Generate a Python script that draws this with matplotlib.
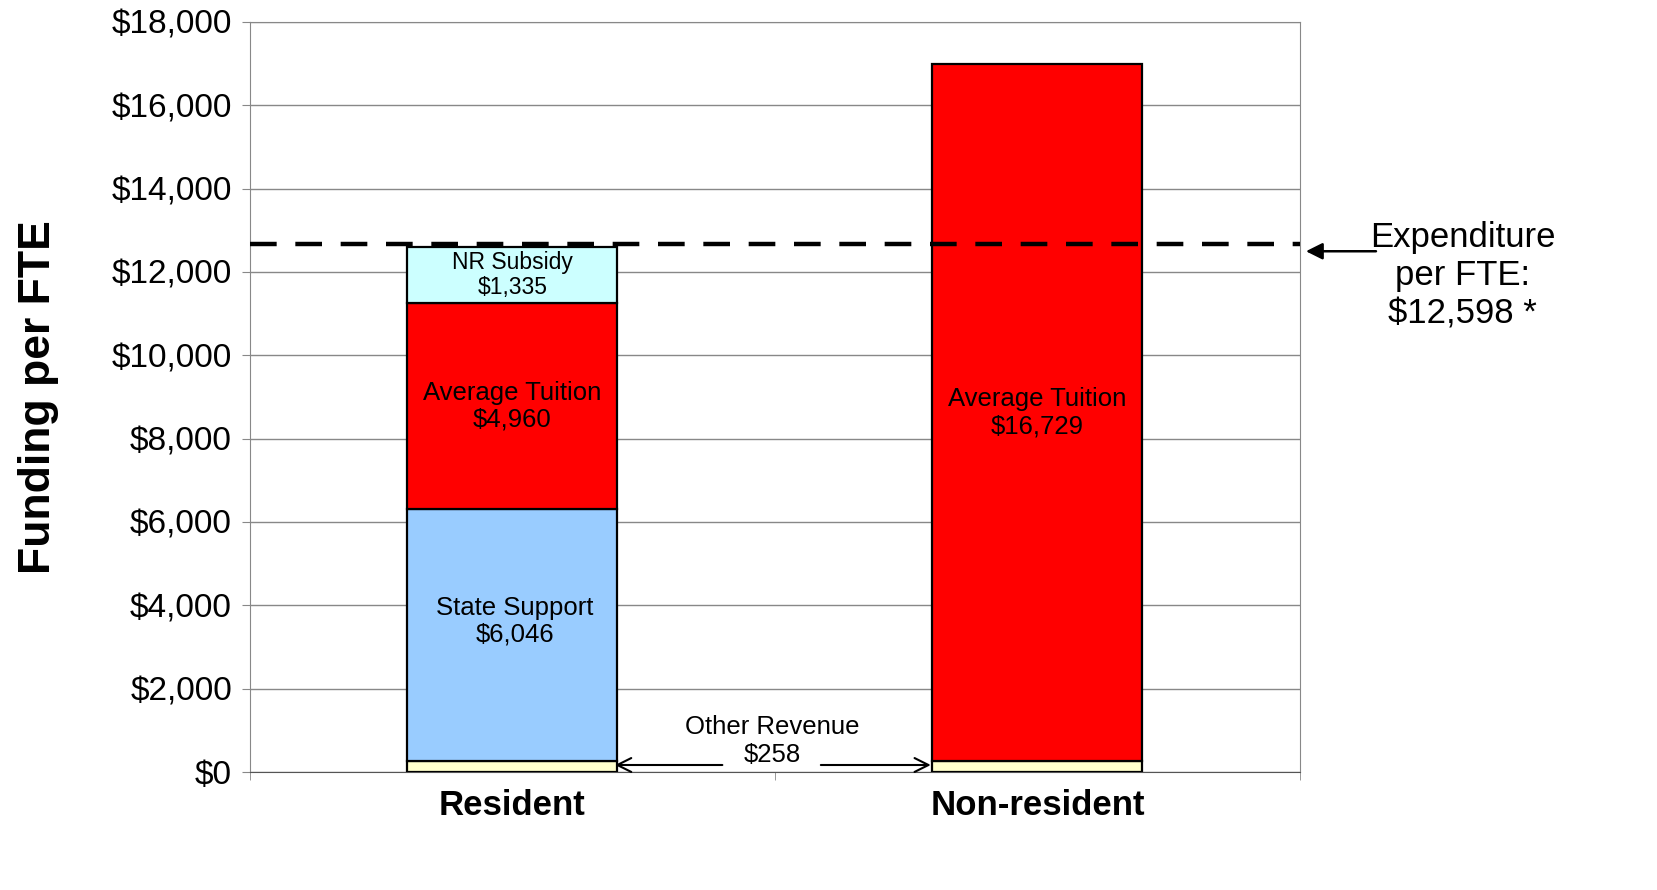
import matplotlib
matplotlib.use("Agg")
import matplotlib.pyplot as plt
import numpy as np

plt.rcParams['font.family'] = ['Liberation Sans', 'DejaVu Sans']

categories = ["Resident", "Non-resident"]
other_revenue = [258, 258]
state_support = [6046, 0]
avg_tuition = [4960, 16729]
nr_subsidy = [1335, 0]
expenditure = 12598
yticks = list(range(0, 18001, 2000))

fig = plt.figure(figsize=(16.58, 8.90), dpi=100)
ax = fig.add_axes([250/1658, 1-772/890, 1050/1658, 750/890])

x = np.arange(len(categories))
w = 0.4
edge = dict(edgecolor='black', linewidth=1.6, zorder=3)
b0 = np.array(other_revenue)
b1 = b0 + np.array(state_support)
b2 = b1 + np.array(avg_tuition)
ax.bar(x, other_revenue, w, color='#FFFFCC', **edge)
ax.bar(x[:1], state_support[:1], w, bottom=b0[:1], color='#99CCFF', **edge)
ax.bar(x, avg_tuition, w, bottom=b1, color='#FF0000', **edge)
ax.bar(x[:1], nr_subsidy[:1], w, bottom=b2[:1], color='#CCFFFF', **edge)

ax.set_xlim(-0.5, 1.5)
ax.set_ylim(0, 18000)
ax.set_yticks(yticks)
ax.set_yticklabels([f"${v:,}" for v in yticks], fontsize=24)
ax.grid(axis='y', color='#888888', linewidth=1.0, zorder=0)
ax.set_axisbelow(True)
ax.tick_params(axis='y', length=6, color='#888888', pad=7)
ax.set_xticks(x)
ax.set_xticklabels(categories, fontsize=25, fontweight='bold')
ax.tick_params(axis='x', length=0, pad=12)
ax.set_xticks([-0.5, 0.5, 1.5], minor=True)
ax.tick_params(axis='x', which='minor', length=6, color='#888888')
for s in ['left', 'right', 'top']:
    ax.spines[s].set_color('#888888')
ax.spines['bottom'].set_color('#555555')
ax.set_ylabel("Funding per FTE", fontsize=32, fontweight='bold', labelpad=38)

# segment labels
tfs = 18.5
ax.text(x[0] + 0.005, b0[0] + state_support[0]/2 + 330, "State Support\n$6,046", ha='center', va='center',
        fontsize=tfs, linespacing=1.15, zorder=4)
ax.text(x[0], b1[0] + avg_tuition[0]/2, "Average Tuition\n$4,960", ha='center', va='center',
        fontsize=tfs, linespacing=1.15, zorder=4)
ax.text(x[0], b2[0] + nr_subsidy[0]/2, "NR Subsidy\n$1,335", ha='center', va='center',
        fontsize=16.5, linespacing=1.1, zorder=4)
ax.text(x[1], b1[1] + avg_tuition[1]/2, "Average Tuition\n$16,729", ha='center', va='center',
        fontsize=tfs, linespacing=1.15, zorder=4)

# expenditure line
ln, = ax.plot([-0.5, 1.5], [expenditure + 80, expenditure + 80], color='black', lw=3.2, zorder=5)
ln.set_dashes((6, 4.2))
ax.annotate("", xy=(1.003, expenditure - 100), xycoords=('axes fraction', 'data'),
            xytext=(1.075, expenditure - 100), textcoords=('axes fraction', 'data'),
            arrowprops=dict(arrowstyle='-|>', color='black', lw=1.8, mutation_scale=25),
            annotation_clip=False)
ax.text(1.155, expenditure + 620, "Expenditure\nper FTE:\n$12,598 *", transform=ax.get_yaxis_transform(),
        ha='center', va='top', fontsize=25, linespacing=1.2)

# other revenue annotation
ax.text(0.494, 744, "Other Revenue\n$258", ha='center', va='center', fontsize=tfs, linespacing=1.2, zorder=6)
ax.annotate("", xy=(0.19, 168), xytext=(0.405, 168),
            arrowprops=dict(arrowstyle='->', color='black', lw=1.5, mutation_scale=25), zorder=6)
ax.annotate("", xy=(0.802, 168), xytext=(0.582, 168),
            arrowprops=dict(arrowstyle='->', color='black', lw=1.5, mutation_scale=25), zorder=6)

fig.savefig("out.png", dpi=100)
